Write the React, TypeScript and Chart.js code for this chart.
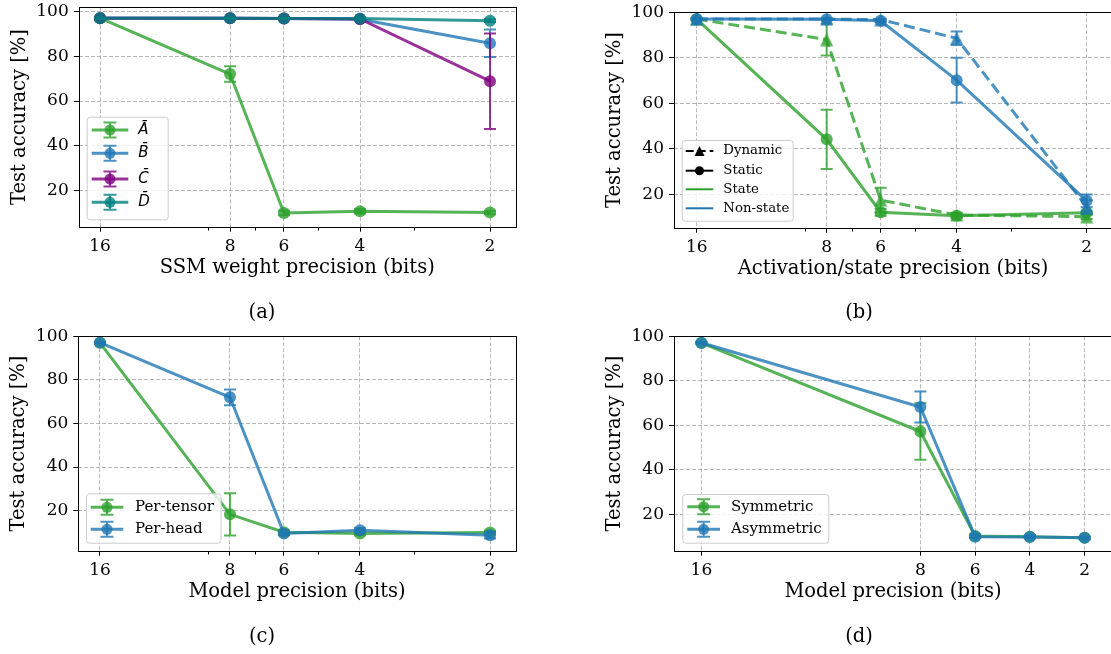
import React, { useEffect, useRef } from 'react';
import { Chart, registerables } from 'chart.js';

Chart.register(...registerables);

const SERIF = '"DejaVu Serif", serif';

// ---------------- shared axis values ----------------
const bits = [16, 8, 6, 4, 2];
const bitTickLabels = ['16', '8', '6', '4', '2'];
const logMinorTicks = [9, 7, 5, 3];
const accTicks = [20, 40, 60, 80, 100];
const yTitle = 'Test accuracy [%]';

// ---------------- (a) SSM weight precision ----------------
const aTitle = 'SSM weight precision (bits)';
const aNames = ['Ā', 'B̄', 'C̄', 'D̄'];
const aAbar = [97.1, 72.1, 9.8, 10.6, 10.1];
const aAbarErr = [0.6, 3.5, 1.0, 1.0, 0.8];
const aBbar = [97.2, 97.1, 97.0, 96.6, 85.9];
const aBbarErr = [0.3, 0.3, 0.4, 0.5, 6.2];
const aCbar = [97.1, 97.1, 97.0, 96.8, 68.9];
const aCbarErr = [0.3, 0.3, 0.4, 0.4, 21.4];
const aDbar = [97.1, 97.1, 97.0, 97.0, 96.0];
const aDbarErr = [0.3, 0.3, 0.3, 0.3, 0.6];

// ---------------- (b) activation / state precision ----------------
const bTitle = 'Activation/state precision (bits)';
const bNames = ['Dynamic', 'Static', 'State', 'Non-state'];
const bStateStatic = [97.0, 44.2, 12.2, 10.6, 12.0];
const bStateStaticErr = [0.5, 13.0, 1.5, 1.0, 0.8];
const bStateDynamic = [97.0, 88.0, 17.5, 11.0, 10.2];
const bStateDynamicErr = [0.5, 7.0, 5.5, 1.0, 1.0];
const bNonStateStatic = [97.1, 97.0, 96.3, 70.2, 17.2];
const bNonStateStaticErr = [0.3, 0.4, 0.6, 9.8, 2.8];
const bNonStateDynamic = [97.1, 97.0, 96.8, 88.6, 14.5];
const bNonStateDynamicErr = [0.3, 0.3, 0.4, 3.0, 3.0];

// ---------------- (c) model precision: granularity ----------------
const cTitle = 'Model precision (bits)';
const cNames = ['Per-tensor', 'Per-head'];
const cPerTensor = [97.0, 18.3, 10.1, 9.5, 10.0];
const cPerTensorErr = [0.4, 9.7, 1.0, 0.8, 0.8];
const cPerHead = [97.1, 72.0, 9.5, 11.0, 8.7];
const cPerHeadErr = [0.3, 3.6, 0.8, 1.0, 1.5];

// ---------------- (d) model precision: symmetry ----------------
const dTitle = 'Model precision (bits)';
const dNames = ['Symmetric', 'Asymmetric'];
const dSymmetric = [97.0, 57.2, 10.2, 9.9, 9.4];
const dSymmetricErr = [0.4, 12.7, 0.8, 0.7, 0.6];
const dAsymmetric = [97.1, 68.2, 9.9, 9.8, 9.4];
const dAsymmetricErr = [0.3, 7.0, 0.6, 0.6, 0.5];

// ---------------- styles ----------------
const GREEN = 'rgba(44,160,44,0.8)';
const BLUE = 'rgba(31,119,180,0.8)';
const PURPLE = 'rgba(128,0,128,0.8)';
const TEAL = 'rgba(0,128,128,0.8)';
const GREEN_SOLID = '#2ca02c';
const BLUE_SOLID = '#1f77b4';

type MarkerKind = 'circle' | 'triangle';
interface SeriesDef { name: string; y: number[]; err: number[]; color: string; dashed?: boolean; marker: MarkerKind; }
interface LegendItem { label: string; color: string; kind: 'errbar' | 'line'; dashed?: boolean; marker?: MarkerKind; lw?: number; }
interface LegendDef { box: [number, number, number, number]; rows: number[]; hx: [number, number]; tx: number; font: string; items: LegendItem[]; }
interface PanelDef {
  id: string; area: [number, number, number, number];
  xType: 'logarithmic' | 'linear'; xMin: number; xMax: number; yMin: number; yMax: number;
  xTitle: string; series: SeriesDef[]; legend: LegendDef; minor: boolean;
}

const panels: PanelDef[] = [
  {
    id: 'a', area: [78.7, 7.3, 515.7, 226.7], xType: 'logarithmic', xMin: 1.744, xMax: 17.93, yMin: 3.7, yMax: 102,
    xTitle: aTitle, minor: true,
    series: [
      { name: aNames[0], y: aAbar, err: aAbarErr, color: GREEN, marker: 'circle' },
      { name: aNames[1], y: aBbar, err: aBbarErr, color: BLUE, marker: 'circle' },
      { name: aNames[2], y: aCbar, err: aCbarErr, color: PURPLE, marker: 'circle' },
      { name: aNames[3], y: aDbar, err: aDbarErr, color: TEAL, marker: 'circle' },
    ],
    legend: {
      box: [86.7, 116.7, 167.7, 219.3], rows: [130, 153.3, 179, 202.3], hx: [91.7, 128.3], tx: 138.3,
      font: 'italic 15px "DejaVu Sans", sans-serif',
      items: [
        { label: aNames[0], color: GREEN, kind: 'errbar' },
        { label: aNames[1], color: BLUE, kind: 'errbar' },
        { label: aNames[2], color: PURPLE, kind: 'errbar' },
        { label: aNames[3], color: TEAL, kind: 'errbar' },
      ],
    },
  },
  {
    id: 'b', area: [674, 12.3, 1112, 227.7], xType: 'logarithmic', xMin: 1.747, xMax: 18.06, yMin: 5.4, yMax: 100,
    xTitle: bTitle, minor: true,
    series: [
      { name: 'State static', y: bStateStatic, err: bStateStaticErr, color: GREEN, marker: 'circle' },
      { name: 'State dynamic', y: bStateDynamic, err: bStateDynamicErr, color: GREEN, marker: 'triangle', dashed: true },
      { name: 'Non-state static', y: bNonStateStatic, err: bNonStateStaticErr, color: BLUE, marker: 'circle' },
      { name: 'Non-state dynamic', y: bNonStateDynamic, err: bNonStateDynamicErr, color: BLUE, marker: 'triangle', dashed: true },
    ],
    legend: {
      box: [681.7, 140, 792.7, 220.7], rows: [151, 170.7, 189.3, 208.3], hx: [685.7, 713.3], tx: 723.3,
      font: '13.3px ' + SERIF,
      items: [
        { label: bNames[0], color: '#000', kind: 'line', dashed: true, marker: 'triangle', lw: 2 },
        { label: bNames[1], color: '#000', kind: 'line', marker: 'circle', lw: 2 },
        { label: bNames[2], color: GREEN_SOLID, kind: 'line', lw: 2 },
        { label: bNames[3], color: BLUE_SOLID, kind: 'line', lw: 2 },
      ],
    },
  },
  {
    id: 'c', area: [78.3, 336.3, 515.7, 550.7], xType: 'logarithmic', xMin: 1.744, xMax: 17.96, yMin: 1.6, yMax: 100,
    xTitle: cTitle, minor: true,
    series: [
      { name: cNames[0], y: cPerTensor, err: cPerTensorErr, color: GREEN, marker: 'circle' },
      { name: cNames[1], y: cPerHead, err: cPerHeadErr, color: BLUE, marker: 'circle' },
    ],
    legend: {
      box: [86, 493.3, 220.5, 542.7], rows: [507.3, 529.3], hx: [90.7, 123.3], tx: 135,
      font: '15px ' + SERIF,
      items: [
        { label: cNames[0], color: GREEN, kind: 'errbar' },
        { label: cNames[1], color: BLUE, kind: 'errbar' },
      ],
    },
  },
  {
    id: 'd', area: [674, 336.3, 1112, 550.7], xType: 'linear', xMin: 1, xMax: 17, yMin: 3.6, yMax: 100,
    xTitle: dTitle, minor: false,
    series: [
      { name: dNames[0], y: dSymmetric, err: dSymmetricErr, color: GREEN, marker: 'circle' },
      { name: dNames[1], y: dAsymmetric, err: dAsymmetricErr, color: BLUE, marker: 'circle' },
    ],
    legend: {
      box: [682.3, 494, 828.3, 542.7], rows: [506.7, 529.3], hx: [687.3, 720], tx: 731,
      font: '15px ' + SERIF,
      items: [
        { label: dNames[0], color: GREEN, kind: 'errbar' },
        { label: dNames[1], color: BLUE, kind: 'errbar' },
      ],
    },
  },
];

const captions = [
  { text: '(a)', x: 262, y: 312 },
  { text: '(b)', x: 859, y: 312 },
  { text: '(c)', x: 262, y: 636 },
  { text: '(d)', x: 859, y: 636 },
];

function triangleImage(color: string, size = 14): HTMLCanvasElement {
  const c = document.createElement('canvas');
  c.width = size; c.height = size;
  const g = c.getContext('2d')!;
  g.fillStyle = color;
  g.beginPath();
  g.moveTo(size / 2, 0.5);
  g.lineTo(0.5, size - 0.5);
  g.lineTo(size - 0.5, size - 0.5);
  g.closePath();
  g.fill();
  return c;
}

function drawMarker(ctx: CanvasRenderingContext2D, kind: MarkerKind, x: number, y: number, r: number) {
  ctx.beginPath();
  if (kind === 'circle') ctx.arc(x, y, r, 0, Math.PI * 2);
  else { ctx.moveTo(x, y - r); ctx.lineTo(x - r, y + r); ctx.lineTo(x + r, y + r); ctx.closePath(); }
  ctx.fill();
}

function drawLegend(ctx: CanvasRenderingContext2D, lg: LegendDef, ox: number, oy: number) {
  ctx.save();
  ctx.translate(-ox, -oy);
  const [x0, y0, x1, y1] = lg.box;
  ctx.beginPath();
  (ctx as any).roundRect(x0 + 0.5, y0 + 0.5, x1 - x0, y1 - y0, 3);
  ctx.fillStyle = 'rgba(255,255,255,0.8)';
  ctx.fill();
  ctx.strokeStyle = '#cccccc';
  ctx.lineWidth = 1;
  ctx.setLineDash([]);
  ctx.stroke();
  const [hx0, hx1] = lg.hx;
  const hc = (hx0 + hx1) / 2;
  lg.items.forEach((it, i) => {
    const y = lg.rows[i];
    ctx.strokeStyle = it.color;
    ctx.fillStyle = it.color;
    if (it.kind === 'errbar') {
      ctx.lineWidth = 3;
      ctx.setLineDash([]);
      ctx.beginPath(); ctx.moveTo(hx0, y); ctx.lineTo(hx1, y); ctx.stroke();
      ctx.lineWidth = 2;
      ctx.beginPath();
      ctx.moveTo(hc, y - 7.5); ctx.lineTo(hc, y + 7.5);
      ctx.moveTo(hc - 6.5, y - 7.5); ctx.lineTo(hc + 6.5, y - 7.5);
      ctx.moveTo(hc - 6.5, y + 7.5); ctx.lineTo(hc + 6.5, y + 7.5);
      ctx.stroke();
      drawMarker(ctx, 'circle', hc, y, 5.5);
    } else {
      ctx.lineWidth = it.lw || 2;
      ctx.setLineDash(it.dashed ? [8, 4] : []);
      ctx.beginPath(); ctx.moveTo(hx0, y); ctx.lineTo(hx1, y); ctx.stroke();
      ctx.setLineDash([]);
      if (it.marker) drawMarker(ctx, it.marker, hc, y, it.marker === 'circle' ? 4.5 : 5);
    }
    ctx.fillStyle = '#000';
    ctx.font = lg.font;
    ctx.textBaseline = 'middle';
    ctx.textAlign = 'left';
    ctx.fillText(it.label, lg.tx, y);
  });
  ctx.restore();
}

const errorBarPlugin = {
  id: 'errorBars',
  afterDatasetDraw(chart: any, args: any) {
    const ds = chart.data.datasets[args.index];
    if (!ds.errors) return;
    const ys = chart.scales.y;
    const ctx: CanvasRenderingContext2D = chart.ctx;
    ctx.save();
    ctx.strokeStyle = ds.borderColor;
    ctx.lineWidth = 2;
    ctx.setLineDash([]);
    ctx.beginPath();
    args.meta.data.forEach((pt: any, i: number) => {
      const e = ds.errors[i];
      if (!e) return;
      const v = ds.data[i].y;
      const x = pt.x;
      const yt = ys.getPixelForValue(v + e);
      const yb = ys.getPixelForValue(v - e);
      ctx.moveTo(x, yt); ctx.lineTo(x, yb);
      ctx.moveTo(x - 6, yt); ctx.lineTo(x + 6, yt);
      ctx.moveTo(x - 6, yb); ctx.lineTo(x + 6, yb);
    });
    ctx.stroke();
    ctx.restore();
  },
};

function PanelChart({ p }: { p: PanelDef }) {
  const ref = useRef<HTMLCanvasElement>(null);
  const [L, T, R, B] = p.area;
  const cx = Math.round(L) - 80;
  const cy = Math.round(T) - 40;
  const cw = Math.ceil(R - cx) + 40;
  const xH = 62;
  const ch = Math.ceil(B - cy) + xH + 10;

  useEffect(() => {
    const canvas = ref.current!;
    const n = p.series.length;
    const framePlugin = {
      id: 'frame_' + p.id,
      afterDatasetsDraw(chart: any) {
        const ctx: CanvasRenderingContext2D = chart.ctx;
        const a = chart.chartArea;
        ctx.save();
        ctx.setLineDash([]);
        ctx.strokeStyle = '#000';
        ctx.lineWidth = 1;
        const l = Math.round(a.left) + 0.5, t = Math.round(a.top) + 0.5;
        const r = Math.round(a.right) + 0.5, b = Math.round(a.bottom) + 0.5;
        ctx.strokeRect(l, t, r - l, b - t);
        if (p.minor) {
          const xs = chart.scales.x;
          ctx.lineWidth = 1;
          ctx.beginPath();
          logMinorTicks.forEach((v) => {
            const px = Math.round(xs.getPixelForValue(v)) + 0.5;
            ctx.moveTo(px, b); ctx.lineTo(px, b + 3);
          });
          ctx.stroke();
        }
        ctx.restore();
        drawLegend(ctx, p.legend, cx, cy);
      },
    };

    const tickFont = { family: SERIF, size: 17 };
    const titleFont = { family: SERIF, size: 19.5 };
    const gridCommon = { color: 'rgba(160,160,160,0.75)', lineWidth: 1, tickLength: 5, tickColor: '#000', tickWidth: 1 };

    const chart = new Chart(canvas, {
      type: 'line',
      data: {
        datasets: p.series.map((s, i) => ({
          label: s.name,
          data: bits.map((x, k) => ({ x, y: s.y[k] })),
          errors: s.err,
          borderColor: s.color,
          backgroundColor: s.color,
          pointBackgroundColor: s.color,
          pointBorderWidth: 0,
          pointRadius: 6,
          pointStyle: s.marker === 'circle' ? 'circle' : triangleImage(s.color),
          borderWidth: 3,
          borderDash: s.dashed ? [11, 5] : [],
          fill: false,
          tension: 0,
          order: n - i,
        })) as any,
      },
      options: {
        responsive: false,
        animation: false,
        devicePixelRatio: 1,
        events: [],
        layout: { padding: { left: 0, top: T - cy, right: cx + cw - R, bottom: ch - xH - (B - cy) } },
        plugins: { legend: { display: false }, tooltip: { enabled: false } },
        scales: {
          x: {
            type: p.xType,
            min: p.xMin,
            max: p.xMax,
            reverse: true,
            afterFit: (s: any) => { s.height = xH; },
            afterBuildTicks: (s: any) => { s.ticks = bits.map((v) => ({ value: v })); },
            ticks: {
              autoSkip: false, maxRotation: 0, minRotation: 0, padding: 5, color: '#000', font: tickFont,
              callback: (v: any) => bitTickLabels[bits.indexOf(Number(v))] ?? String(v),
            },
            grid: gridCommon,
            border: { display: false, dash: [4, 2] },
            title: { display: true, text: p.xTitle, color: '#000', font: titleFont, padding: { top: 0, bottom: 9 } },
          },
          y: {
            type: 'linear',
            min: p.yMin,
            max: p.yMax,
            afterFit: (s: any) => { s.width = L - cx; },
            afterBuildTicks: (s: any) => { s.ticks = accTicks.map((v) => ({ value: v })); },
            ticks: { padding: 5, color: '#000', font: tickFont, callback: (v: any) => String(v) },
            grid: gridCommon,
            border: { display: false, dash: [4, 2] },
            title: { display: true, text: yTitle, color: '#000', font: titleFont, padding: { top: (L - 59) - cx - 11.7, bottom: 0 } },
          },
        },
      } as any,
      plugins: [errorBarPlugin, framePlugin],
    });
    return () => chart.destroy();
  }, []);

  return (
    <canvas
      ref={ref}
      width={cw}
      height={ch}
      style={{ position: 'absolute', left: cx, top: cy, width: cw, height: ch }}
    />
  );
}

export default function App() {
  useEffect(() => {
    document.body.style.margin = '0';
    document.body.style.overflow = 'hidden';
  }, []);
  return (
    <div style={{ position: 'fixed', left: 0, top: 0, width: 1111, height: 654, overflow: 'hidden', background: '#fff' }}>
      {panels.map((p) => <PanelChart key={p.id} p={p} />)}
      {captions.map((c) => (
        <div
          key={c.text}
          style={{
            position: 'absolute', left: c.x, top: c.y, transform: 'translate(-50%, -50%)',
            fontFamily: SERIF, fontSize: 19.5, color: '#000', whiteSpace: 'nowrap', lineHeight: 1,
          }}
        >
          {c.text}
        </div>
      ))}
    </div>
  );
}
